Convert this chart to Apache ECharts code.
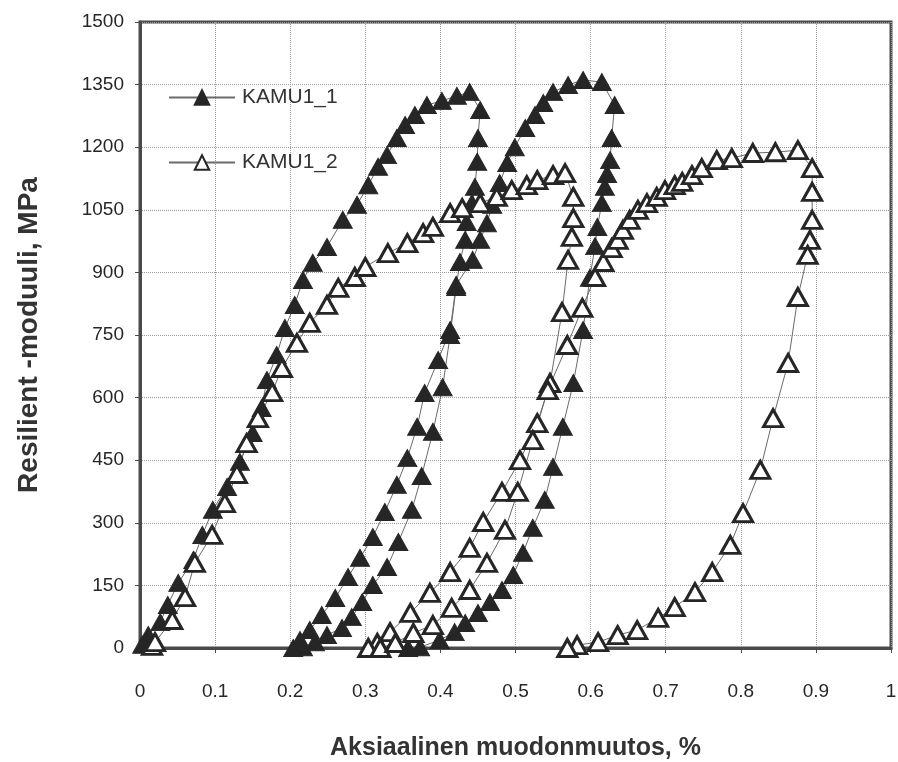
<!DOCTYPE html>
<html>
<head>
<meta charset="utf-8">
<title>Resilient -moduuli</title>
<script src="https://cdn.jsdelivr.net/npm/echarts@6/dist/echarts.min.js"></script>
<style>
  html, body { margin: 0; padding: 0; background: #ffffff; }
  #chart { width: 898px; height: 762px; }
</style>
</head>
<body>
<div id="chart"></div>
<script>
// Axial strain (%) vs resilient modulus (MPa), two specimens, load/unload cycles.

// KAMU1_1 (filled triangles)
const k1Load1 = [
  [0.003, 8], [0.011, 31], [0.027, 62], [0.037, 103], [0.051, 156], [0.071, 211],
  [0.083, 271], [0.097, 331], [0.116, 386], [0.133, 446], [0.150, 515], [0.162, 575],
  [0.169, 642], [0.182, 702], [0.193, 767], [0.206, 822], [0.217, 882], [0.230, 923],
  [0.249, 961], [0.270, 1026], [0.289, 1062], [0.304, 1109], [0.317, 1153], [0.329, 1181],
  [0.342, 1222], [0.353, 1253], [0.366, 1277], [0.382, 1301], [0.402, 1311], [0.422, 1323],
  [0.439, 1332]
];
const k1Unload1 = [
  [0.453, 1289], [0.450, 1222], [0.449, 1165], [0.446, 1105], [0.442, 1066], [0.435, 1021],
  [0.433, 978], [0.426, 925], [0.421, 865], [0.413, 750], [0.403, 625], [0.390, 518],
  [0.375, 412], [0.362, 331], [0.344, 254], [0.329, 194], [0.310, 151], [0.296, 110],
  [0.282, 74], [0.269, 48], [0.249, 31], [0.233, 14], [0.217, 2], [0.204, 0]
];
const k1Load2 = [
  [0.213, 19], [0.226, 43], [0.242, 79], [0.260, 120], [0.277, 170], [0.293, 216],
  [0.310, 266], [0.326, 326], [0.342, 391], [0.356, 455], [0.369, 530], [0.379, 611],
  [0.397, 690], [0.413, 762], [0.421, 870], [0.443, 930], [0.453, 978], [0.462, 1018],
  [0.469, 1062], [0.479, 1114], [0.489, 1162], [0.499, 1200], [0.513, 1246], [0.526, 1277],
  [0.537, 1306], [0.550, 1332], [0.570, 1349], [0.590, 1361], [0.615, 1356]
];
const k1Unload2 = [
  [0.632, 1301], [0.628, 1222], [0.626, 1169], [0.622, 1136], [0.619, 1105], [0.615, 1066],
  [0.609, 1009], [0.606, 963], [0.599, 887], [0.590, 762], [0.577, 635], [0.563, 530],
  [0.550, 434], [0.539, 355], [0.523, 288], [0.510, 228], [0.497, 175], [0.482, 139],
  [0.466, 110], [0.450, 84], [0.433, 60], [0.419, 38], [0.399, 19], [0.373, 2], [0.357, 0]
];

// KAMU1_2 (open triangles)
const k2Load1 = [
  [0.016, 5], [0.020, 14], [0.043, 67], [0.060, 122], [0.073, 204], [0.096, 271],
  [0.113, 347], [0.129, 417], [0.142, 491], [0.157, 551], [0.176, 613], [0.189, 671],
  [0.209, 731], [0.226, 779], [0.249, 822], [0.264, 863], [0.286, 889], [0.300, 913],
  [0.330, 946], [0.356, 970], [0.377, 994], [0.390, 1009], [0.413, 1042], [0.429, 1054],
  [0.453, 1066], [0.475, 1081], [0.495, 1097], [0.515, 1109], [0.529, 1121], [0.550, 1133],
  [0.566, 1138]
];
const k2Unload1 = [
  [0.577, 1081], [0.577, 1030], [0.575, 985], [0.570, 930], [0.562, 805], [0.546, 635],
  [0.529, 539], [0.506, 450], [0.482, 374], [0.457, 302], [0.439, 240], [0.413, 182],
  [0.386, 132], [0.360, 84], [0.333, 38], [0.316, 12], [0.304, 0]
];
const k2Load2 = [
  [0.320, 0], [0.340, 12], [0.364, 36], [0.390, 55], [0.415, 96], [0.439, 139],
  [0.462, 204], [0.486, 283], [0.503, 374], [0.523, 498], [0.543, 618], [0.569, 726],
  [0.589, 815], [0.606, 889], [0.617, 925], [0.628, 958], [0.636, 978], [0.643, 1002],
  [0.652, 1026], [0.663, 1050], [0.675, 1066], [0.688, 1081], [0.699, 1097], [0.712, 1109],
  [0.722, 1117], [0.735, 1133], [0.748, 1150], [0.768, 1169], [0.788, 1174], [0.816, 1186],
  [0.846, 1188], [0.876, 1193]
];
const k2Unload2 = [
  [0.895, 1150], [0.895, 1093], [0.895, 1026], [0.892, 978], [0.889, 942], [0.876, 841],
  [0.863, 683], [0.843, 551], [0.826, 427], [0.803, 323], [0.786, 247], [0.762, 182],
  [0.739, 134], [0.712, 98], [0.690, 72], [0.662, 43], [0.636, 31], [0.610, 14],
  [0.582, 7], [0.569, 0]
];

const seriesNames = ['KAMU1_1', 'KAMU1_2'];
const xTitle = 'Aksiaalinen muodonmuutos, %';
const yTitle = 'Resilient -moduuli, MPa';

const kamu1 = [].concat(k1Load1, k1Unload1, k1Load2, k1Unload2);
const kamu2 = [].concat(k2Load1, k2Unload1, k2Load2, k2Unload2);

const frame = '#4a4a4a';
const ink = '#262626';
const sans = 'Liberation Sans, Arial, sans-serif';
const tickFont = { fontFamily: sans, fontSize: 19, color: '#262626' };

const chart = echarts.init(document.getElementById('chart'), null, { renderer: 'canvas' });
chart.setOption({
  backgroundColor: '#ffffff',
  animation: false,
  grid: {
    left: 140, right: 7, top: 22, bottom: 114,
    containLabel: false, outerBoundsMode: 'none',
    show: true, borderColor: frame, borderWidth: 3, backgroundColor: '#ffffff'
  },
  legend: {
    orient: 'vertical',
    left: 163, top: 82,
    itemWidth: 66, itemHeight: 18, itemGap: 44,
    textStyle: { fontFamily: sans, fontSize: 21, color: '#333333', padding: [0, 0, 0, 2] },
    data: seriesNames
  },
  xAxis: {
    type: 'value', min: 0, max: 1, interval: 0.1,
    name: xTitle, nameLocation: 'middle', nameGap: 88,
    nameTextStyle: { fontFamily: sans, fontSize: 25, fontWeight: 'bold', color: '#333333' },
    axisLine: { lineStyle: { color: frame, width: 3 } },
    axisTick: { show: true, length: 5, lineStyle: { color: frame } },
    axisLabel: Object.assign({ margin: 34, formatter: v => String(v) }, tickFont),
    splitLine: { show: true, lineStyle: { color: '#9a9a9a', type: 'dotted', width: 1 } }
  },
  yAxis: {
    type: 'value', min: 0, max: 1500, interval: 150,
    name: yTitle, nameLocation: 'middle', nameGap: 97, nameRotate: 90,
    nameTextStyle: { fontFamily: sans, fontSize: 28, fontWeight: 'bold', color: '#333333' },
    axisLine: { lineStyle: { color: frame, width: 3 } },
    axisTick: { show: true, length: 5, lineStyle: { color: frame } },
    axisLabel: Object.assign({ margin: 16, formatter: v => String(v) }, tickFont),
    splitLine: { show: true, lineStyle: { color: '#9a9a9a', type: 'dotted', width: 1 } }
  },
  series: [
    {
      name: seriesNames[0], type: 'line', data: kamu1, clip: false,
      symbol: 'triangle', symbolSize: [19, 17],
      lineStyle: { color: '#6a6a6a', width: 1 },
      itemStyle: { color: ink, borderColor: ink, borderWidth: 1 }
    },
    {
      name: seriesNames[1], type: 'line', data: kamu2, clip: false,
      symbol: 'triangle', symbolSize: [19, 17],
      lineStyle: { color: '#6a6a6a', width: 1 },
      itemStyle: { color: '#ffffff', borderColor: ink, borderWidth: 3 }
    }
  ]
});
</script>
</body>
</html>
